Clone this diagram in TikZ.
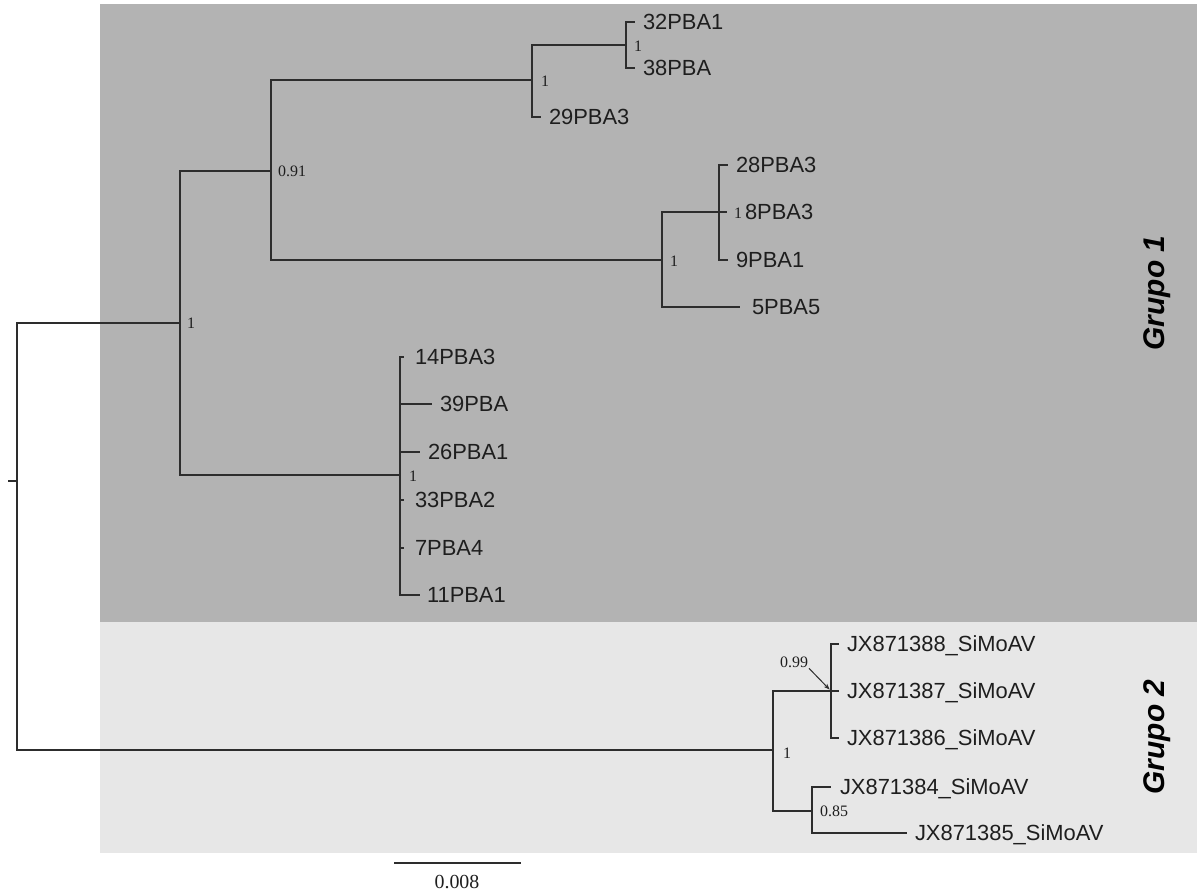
\documentclass[tikz,border=0pt]{standalone}
\usepackage{fontspec}
\usepackage{tikz}
\usetikzlibrary{arrows.meta}
\newfontfamily\leaffont{Liberation Sans}
\newfontfamily\suppfont{Liberation Serif}
\definecolor{gone}{RGB}{179,179,179}
\definecolor{gtwo}{RGB}{231,231,231}
\definecolor{cline}{RGB}{45,45,45}
\definecolor{ctext}{RGB}{30,30,30}

\begin{document}
\begin{tikzpicture}[x=1bp, y=-1bp,
          branch/.style={draw=cline, line width=1.4bp},
          leaf/.style={anchor=west, inner sep=0pt, outer xsep=#1,
          font=\leaffont\fontsize{22}{26}\selectfont, text=ctext,
          text height=15.8bp, text depth=0pt},
          leaf/.default=8bp,
          supp/.style={anchor=west, inner sep=0pt,
          font=\suppfont\fontsize{16}{19}\selectfont, text=ctext,
          text height=10.8bp, text depth=0pt},
          grupo/.style={rotate=90, inner sep=0pt, text=black,
          font=\leaffont\bfseries\itshape\fontsize{30}{34}\selectfont},
        ]

          \useasboundingbox (0,0) rectangle (1197,892);

          % ── Group backgrounds ────────────────────────────────
          \fill[gone] (100,4) rectangle (1197,622);
          \fill[gtwo] (100,622) rectangle (1197,853);
          \node[grupo] (grp1) at (1157,293) {Grupo 1};
          \node[grupo] (grp2) at (1157,737) {Grupo 2};

          % ── Internal nodes ───────────────────────────────────
          \coordinate (stub) at (8,481);
          \coordinate (R) at (17,481);
          \coordinate (A) at (180,323);
          \coordinate (B) at (271,171);
          \coordinate (C) at (532,80);
          \coordinate (D) at (626,45);
          \coordinate (E) at (662,260);
          \coordinate (F) at (719,212);
          \coordinate (G) at (400,475);
          \coordinate (H) at (773,750);
          \coordinate (I) at (831,691);
          \coordinate (J) at (812,811);

          % ── Leaves, Grupo 1 ──────────────────────────────────
          \node[leaf] (t32) at (635,22)  {32PBA1};
          \node[leaf] (t38) at (635,68)  {38PBA};
          \node[leaf] (t29) at (541,117) {29PBA3};
          \node[leaf] (t28) at (728,165) {28PBA3};
          \node[leaf=18bp] (t8) at (727,212) {8PBA3};
          \node[leaf] (t9)  at (728,260) {9PBA1};
          \node[leaf=12bp] (t5) at (740,307) {5PBA5};
          \node[leaf=11bp] (t14) at (404,357) {14PBA3};
          \node[leaf] (t39) at (432,404) {39PBA};
          \node[leaf] (t26) at (420,452) {26PBA1};
          \node[leaf=11bp] (t33) at (404,500) {33PBA2};
          \node[leaf=11bp] (t7)  at (404,548) {7PBA4};
          \node[leaf=7bp] (t11) at (420,595) {11PBA1};

          % ── Leaves, Grupo 2 ──────────────────────────────────
          \node[leaf] (jx88) at (839,644) {JX871388\_SiMoAV};
          \node[leaf] (jx87) at (839,691) {JX871387\_SiMoAV};
          \node[leaf] (jx86) at (839,738) {JX871386\_SiMoAV};
          \node[leaf=9bp] (jx84) at (831,787) {JX871384\_SiMoAV};
          \node[leaf] (jx85) at (907,833) {JX871385\_SiMoAV};

          % ── Branches ─────────────────────────────────────────
          \draw[branch] (stub) -- (R);
          \draw[branch] (R) |- (A);
          \draw[branch] (R) |- (H);
          \draw[branch] (A) |- (B);
          \draw[branch] (A) |- (G);
          \draw[branch] (B) |- (C);
          \draw[branch] (B) |- (E);
          \draw[branch] (C) |- (D);
          \draw[branch] (C) |- (t29.west);
          \draw[branch] (D) |- (t32.west);
          \draw[branch] (D) |- (t38.west);
          \draw[branch] (E) |- (F);
          \draw[branch] (E) |- (t5.west);
          \draw[branch] (F) |- (t28.west);
          \draw[branch] (F) |- (t8.west);
          \draw[branch] (F) |- (t9.west);
          \foreach \t in {t14,t39,t26,t33,t7,t11}
            \draw[branch] (G) |- (\t.west);
          \draw[branch] (H) |- (I);
          \draw[branch] (H) |- (J);
          \foreach \t in {jx88,jx87,jx86}
            \draw[branch] (I) |- (\t.west);
          \draw[branch] (J) |- (jx84.west);
          \draw[branch] (J) |- (jx85.west);

          % ── Support values ───────────────────────────────────
          \node[supp] (sA) at (187,323) {1};
          \node[supp] (sB) at (278,171) {0.91};
          \node[supp] (sC) at (541,81)  {1};
          \node[supp] (sD) at (634,46)  {1};
          \node[supp] (sE) at (670,261) {1};
          \node[supp] (sF) at (734,213) {1};
          \node[supp] (sG) at (409,476) {1};
          \node[supp] (sH) at (783,753) {1};
          \node[supp] (sJ) at (820,811) {0.85};
          \node[supp] (sI) at (780,662) {0.99};
          \draw[cline, line width=1bp, -{Stealth[length=6bp,width=4.5bp]},
            shorten <=1bp, shorten >=2bp] (sI.south east) -- (I);

          % ── Scale bar ────────────────────────────────────────
          \coordinate (sb1) at (394,863);
          \coordinate (sb2) at (521,863);
          \draw[branch] (sb1) -- (sb2);
          \node[font=\suppfont\fontsize{20}{24}\selectfont, text=ctext,
            inner sep=0pt] (sbl) at (457,882) {0.008};

        \end{tikzpicture}
\end{document}
